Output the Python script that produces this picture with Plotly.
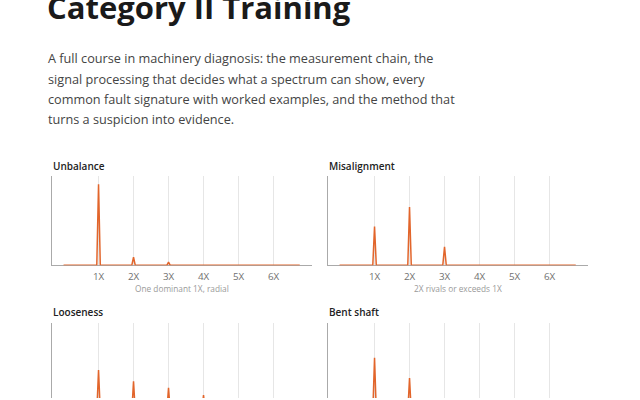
import plotly.graph_objects as go

# Data (amplitude relative to the 1X of unbalance)
orders = [1, 2, 3, 4, 5, 6]
tick_labels = ["1X", "2X", "3X", "4X", "5X", "6X"]
unbalance_amp = [1.0, 0.10, 0.04, 0, 0, 0]
misalignment_amp = [0.48, 0.72, 0.23, 0, 0, 0]
looseness_amp = [0.52, 0.38, 0.30, 0.21, 0.15, 0.11]
bent_shaft_amp = [0.67, 0.42, 0, 0, 0, 0]
span_max = 6.75

panel_titles = ["Unbalance", "Misalignment", "Looseness", "Bent shaft"]
panel_captions = ["One dominant 1X, radial", "2X rivals or exceeds 1X", "", ""]

heading = "Category II Training"
intro_lines = [
    "A full course in machinery diagnosis: the measurement chain, the",
    "signal processing that decides what a spectrum can show, every",
    "common fault signature with worked examples, and the method that",
    "turns a suspicion into evidence.",
]

W, H = 640, 400
FONT = "Open Sans"
ORANGE = "#e2652b"
HALF = 0.05  # half width of a spectral line


def spike_trace(amps):
    xs, ys = [0], [0]
    for o, a in zip(orders, amps):
        if a > 0:
            xs += [o - HALF, o, o + HALF]
            ys += [0, a, 0]
    xs.append(span_max)
    ys.append(0)
    return xs, ys


def px_x(p):
    return p / W


def px_y(p):
    return 1 - p / H


fig = go.Figure()

# panel boxes in pixels: (left, right, top, bottom, y range, show x axis)
panels = [
    (52, 312, 177, 266.7, [0, 1.1], True),
    (328, 588, 177, 266.7, [0, 1.1], True),
    (52, 312, 324.5, 400, [1.1 - 75.5 / 81.5, 1.1], False),
    (328, 588, 324.5, 400, [1.1 - 75.5 / 81.5, 1.1], False),
]
amps_list = [unbalance_amp, misalignment_amp, looseness_amp, bent_shaft_amp]

for i, (l, r, t, b, yr, show_x) in enumerate(panels):
    n = "" if i == 0 else str(i + 1)
    xs, ys = spike_trace(amps_list[i])
    fig.add_trace(go.Scatter(
        x=xs, y=ys, mode="lines", xaxis="x" + n, yaxis="y" + n,
        line=dict(color=ORANGE, width=1.5), hoverinfo="skip", showlegend=False,
    ))
    fig.layout["xaxis" + n] = dict(
        domain=[px_x(l), px_x(r)], range=[-0.33, 7.1], anchor="y" + n,
        tickvals=orders, ticktext=tick_labels, showticklabels=show_x,
        tickfont=dict(family=FONT, size=9.8, color="#707070"),
        ticks="outside", ticklen=2, tickcolor="rgba(0,0,0,0)",
        showgrid=True, gridcolor="#e6e6e6", gridwidth=1,
        showline=show_x, linecolor="#aaaaaa", linewidth=1,
        zeroline=False, layer="below traces", fixedrange=True,
    )
    fig.layout["yaxis" + n] = dict(
        domain=[px_y(b), px_y(t)], range=yr, anchor="x" + n,
        showticklabels=False, showgrid=False, zeroline=False,
        showline=True, linecolor="#aaaaaa", linewidth=1, ticks="",
        layer="below traces", fixedrange=True,
    )
    fig.add_annotation(
        x=px_x(l - 0.5), y=px_y(t - 10.5), xref="paper", yref="paper",
        text=panel_titles[i], showarrow=False, xanchor="left", yanchor="middle",
        borderpad=0, font=dict(family=FONT, size=10, color="#222", weight=600),
    )
    if panel_captions[i]:
        fig.add_annotation(
            x=px_x((l + r) / 2), y=px_y(290), xref="paper", yref="paper",
            text=panel_captions[i], showarrow=False, xanchor="center",
            yanchor="middle", borderpad=0,
            font=dict(family=FONT, size=8.3, color="#9a9a9a"),
        )

fig.add_annotation(
    x=px_x(46), y=px_y(7.5), xref="paper", yref="paper", text=heading,
    showarrow=False, xanchor="left", yanchor="middle", borderpad=0,
    font=dict(family=FONT, size=31, color="#1a1a1a", weight=700),
)
for k, line in enumerate(intro_lines):
    fig.add_annotation(
        x=px_x(47), y=px_y(58.5 + k * 20.5), xref="paper", yref="paper",
        text=line, showarrow=False, xanchor="left", yanchor="middle",
        borderpad=0, font=dict(family=FONT, size=12.7, color="#444"),
    )

fig.update_layout(
    width=W, height=H, margin=dict(l=0, r=0, t=0, b=0),
    paper_bgcolor="white", plot_bgcolor="white",
)

fig.write_html(
    "out.html",
    config={"displayModeBar": False},
    post_script="document.body.style.margin='0';",
)
